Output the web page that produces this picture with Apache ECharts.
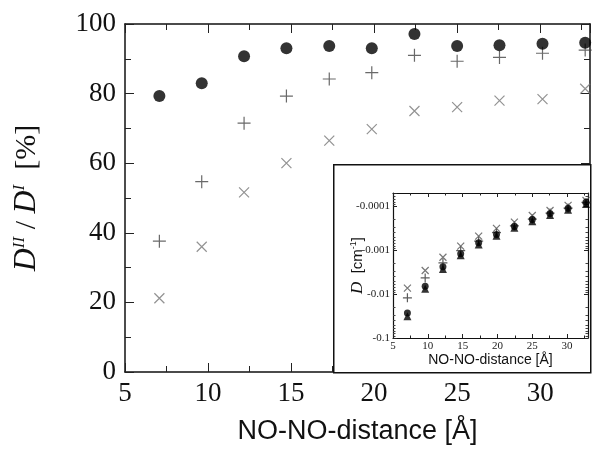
<!DOCTYPE html>
<html><head><meta charset="utf-8">
<script src="https://cdn.jsdelivr.net/npm/echarts@6/dist/echarts.min.js"></script>
<style>html,body{margin:0;padding:0;background:#fff}#c{width:602px;height:456px}</style>
</head><body><div id="c"></div>
<script>
// ---- data ----
const distance = [7.07, 9.62, 12.17, 14.72, 17.3, 19.86, 22.43, 25.0, 27.55, 30.14, 32.71];
const ratioCircle = [79.3, 83.0, 90.7, 93.0, 93.7, 93.0, 97.1, 93.7, 93.9, 94.3, 94.6];
const ratioPlus = [37.6, 54.7, 71.5, 79.3, 84.2, 86.0, 91.0, 89.3, 90.4, 91.6, 92.5];
const ratioCross = [21.2, 36.0, 51.6, 60.0, 66.5, 69.8, 75.0, 76.1, 78.0, 78.4, 81.4];
// inset: |D| in cm^-1 (plotted on a reversed log axis, labelled negative)
const dTriangle = [0.032, 0.0076, 0.0027, 0.0013, 0.00074, 0.00047, 0.00031, 0.00022, 0.000158, 0.00012, 0.000089];
const dCircle = [0.027, 0.0066, 0.0024, 0.0012, 0.00068, 0.00044, 0.00029, 0.0002, 0.000147, 0.000111, 0.000081];
const dPlus = [0.0122, 0.0043, 0.00194, 0.00103, 0.00062, 0.0004, 0.00028, 0.000196, 0.000143, 0.00011, 0.000082];
const dCross = [0.0073, 0.0029, 0.00145, 0.00081, 0.00048, 0.00032, 0.00023, 0.000163, 0.000125, 0.000096, 0.000074];
const xTickLabels = ['5', '10', '15', '20', '25', '30'];
const yTickLabels = ['0', '20', '40', '60', '80', '100'];
const insetYTickLabels = ['-0.0001', '-0.001', '-0.01', '-0.1'];

const pair = (xs, ys) => xs.map((x, i) => [x, ys[i]]);
const SERIF = 'Liberation Serif';
const SANS = 'Liberation Sans';
const PLUS = 'path://M5,0L5,10M0,5L10,5';
const CROSS = 'path://M0,0L10,10M10,0L0,10';

const xLab = v => xTickLabels.indexOf(String(v)) >= 0 ? String(v) : '';
function xAx(grid, pos, major, opt) {
  return {
    type: 'value', gridIndex: grid, position: pos, min: 5, max: 33,
    interval: major ? 5 : 2.5, splitLine: { show: false },
    axisLine: { show: major, onZero: false, lineStyle: { color: '#111', width: opt.lw } },
    axisTick: { show: true, inside: true, length: major ? opt.maj : opt.min, lineStyle: { color: '#222', width: 1 } },
    axisLabel: { show: false }, z: opt.z
  };
}
const mainOpt = { maj: 9, min: 6, z: 0, lw: 1.5 };
const insOpt = { maj: 4, min: 2.5, z: 3, lw: 1.2 };

const xAxes = [
  Object.assign(xAx(0, 'bottom', true, mainOpt), {
    axisLabel: { show: true, formatter: xLab, fontFamily: SERIF, fontSize: 27, color: '#111', margin: 8 },
    name: 'NO-NO-distance [Å]', nameLocation: 'middle', nameGap: 46,
    nameTextStyle: { fontFamily: SANS, fontSize: 27, color: '#111' }
  }),
  xAx(0, 'bottom', false, mainOpt),
  xAx(0, 'top', true, mainOpt),
  xAx(0, 'top', false, mainOpt),
  Object.assign(xAx(1, 'bottom', true, insOpt), {
    axisLabel: { show: true, formatter: xLab, fontFamily: SERIF, fontSize: 11, color: '#222', margin: 3 },
    name: 'NO-NO-distance [Å]', nameLocation: 'middle', nameGap: 15,
    nameTextStyle: { fontFamily: SANS, fontSize: 14, color: '#111' }
  }),
  xAx(1, 'bottom', false, insOpt),
  xAx(1, 'top', true, insOpt),
  xAx(1, 'top', false, insOpt)
];

const yMain = (pos, labels) => ({
  type: 'value', gridIndex: 0, position: pos, min: 0, max: 100, interval: 20,
  splitLine: { show: false },
  axisLine: { show: true, onZero: false, lineStyle: { color: '#111', width: 1.5 } },
  axisTick: { show: true, inside: true, length: 9, lineStyle: { color: '#222' } },
  minorTick: { show: true, splitNumber: 2, length: 6, lineStyle: { color: '#222' } },
  axisLabel: labels ? { show: true, formatter: v => yTickLabels.indexOf(String(v)) >= 0 ? String(v) : '', fontFamily: SERIF, fontSize: 27, color: '#111', margin: 9 } : { show: false }
});
const isPow = v => { const l = Math.log10(v); return Math.abs(l - Math.round(l)) < 1e-6; };
const yInset = (pos, labels) => ({
  type: 'log', logBase: 10, gridIndex: 1, position: pos, min: 0.00005, max: 0.1, inverse: true,
  splitLine: { show: false }, z: 3,
  axisLine: { show: true, onZero: false, lineStyle: { color: '#111', width: 1.2 } },
  axisTick: { show: true, inside: true, length: 4, lineStyle: { color: '#222' } },
  minorTick: { show: true, splitNumber: 9, length: 2.5, lineStyle: { color: '#444' } },
  axisLabel: labels ? {
    show: true, margin: 3, fontFamily: SERIF, fontSize: 11, color: '#222',
    formatter: v => {
      if (!isPow(v)) return '';
      const s = '-' + Math.pow(10, Math.round(Math.log10(v)));
      return insetYTickLabels.indexOf(s) >= 0 ? s : '';
    }
  } : { show: false }
});

const yAxes = [
  Object.assign(yMain('left', true), {
    name: '{d|D}{sup|II}{t| / }{d|D}{sup|I}{t|  [%]}', nameLocation: 'middle', nameRotate: 90, nameGap: 82,
    nameMoveOverlap: false,
    nameTextStyle: {
      rich: {
        d: { fontFamily: SERIF, fontStyle: 'italic', fontSize: 32, color: '#111' },
        sup: { fontFamily: SERIF, fontStyle: 'italic', fontSize: 17, color: '#111', verticalAlign: 'top' },
        t: { fontFamily: SERIF, fontSize: 30, color: '#111' }
      }
    }
  }),
  yMain('right', false),
  Object.assign(yInset('left', true), {
    name: '{d|D}{t|  [cm}{sup|-1}{t|]}', nameLocation: 'middle', nameRotate: 90, nameGap: 27,
    nameMoveOverlap: false,
    nameTextStyle: {
      rich: {
        d: { fontFamily: SERIF, fontStyle: 'italic', fontSize: 17, color: '#111' },
        t: { fontFamily: SANS, fontSize: 15, color: '#111' },
        sup: { fontFamily: SANS, fontSize: 9, color: '#111', verticalAlign: 'top' }
      }
    }
  }),
  yInset('right', false)
];

const sc = (data, xi, yi, symbol, size, fill, stroke, z) => ({
  type: 'scatter', xAxisIndex: xi, yAxisIndex: yi, data, symbol, symbolSize: size, z, silent: true,
  itemStyle: stroke ? { color: 'none', borderColor: stroke, borderWidth: 1.2 } : { color: fill },
  emphasis: { disabled: true }
});

const option = {
  animation: false,
  backgroundColor: '#fff',
  grid: [
    { left: 125, top: 24, right: 12, bottom: 84 },
    { left: 393, top: 193, right: 14, bottom: 118 }
  ],
  xAxis: xAxes,
  yAxis: yAxes,
  graphic: [{
    type: 'rect', z: 1, left: 333, top: 164,
    shape: { width: 257, height: 208 },
    style: { fill: '#fff', stroke: '#111', lineWidth: 1.5 }
  }],
  series: [
    sc(pair(distance, ratioCross), 0, 0, CROSS, 10, null, '#777', 2),
    sc(pair(distance, ratioPlus), 0, 0, PLUS, 13, null, '#444', 2),
    sc(pair(distance, ratioCircle), 0, 0, 'circle', 12, '#000', null, 2),
    sc(pair(distance, dPlus), 4, 2, PLUS, 9, null, '#333', 4),
    sc(pair(distance, dCross), 4, 2, CROSS, 7, null, '#555', 4),
    sc(pair(distance, dTriangle), 4, 2, 'triangle', 8, '#000', null, 5),
    sc(pair(distance, dCircle), 4, 2, 'circle', 7, '#000', null, 5)
  ]
};
echarts.init(document.getElementById('c'), null, { renderer: 'canvas' }).setOption(option);
</script>
</body></html>
